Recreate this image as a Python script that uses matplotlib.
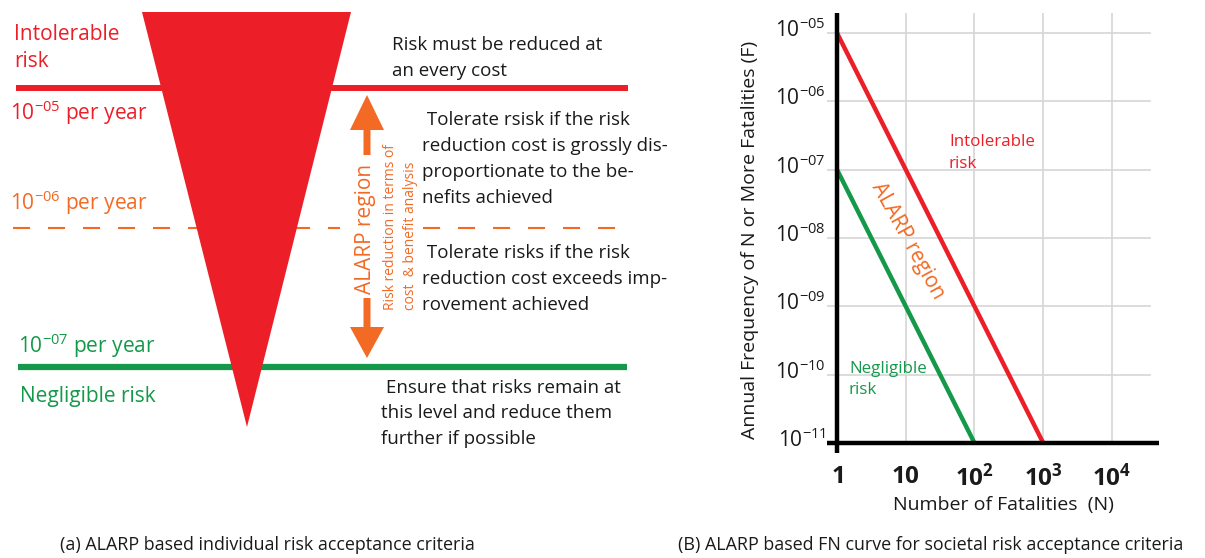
import numpy as np
import matplotlib.pyplot as plt
from matplotlib.patches import Polygon, FancyArrow
from matplotlib.transforms import ScaledTranslation

plt.rcParams['font.family'] = ['Open Sans', 'DejaVu Sans']
plt.rcParams['mathtext.fontset'] = 'custom'
plt.rcParams['mathtext.rm'] = 'Open Sans'
plt.rcParams['mathtext.bf'] = 'Open Sans:bold'
plt.rcParams['mathtext.it'] = 'Open Sans:italic'

RED = '#ec1f28'
ORANGE = '#f26a24'
GREEN = '#14994a'
INK = '#1a1a1a'
GRID = '#d6d6d6'

# (a) individual risk levels, per year
risk_levels = [1e-5, 1e-6, 1e-7]
level_text = ['$10^{-05}$ per year', '$10^{-06}$ per year', '$10^{-07}$ per year']
level_colors = [RED, ORANGE, GREEN]

# (b) FN criterion lines, F = F1 / N^2
intol_N = [1, 1000]
intol_F = [1e-5, 1e-11]
neglig_N = [1, 100]
neglig_F = [1e-7, 1e-11]

xticks = [1, 10, 100, 1000, 10000]
xtick_labels = [r'$\mathbf{1}$', r'$\mathbf{10}$', r'$\mathbf{10}^{\mathbf{2}}$',
                r'$\mathbf{10}^{\mathbf{3}}$', r'$\mathbf{10}^{\mathbf{4}}$']
yticks = [1e-11, 1e-10, 1e-9, 1e-8, 1e-7, 1e-6, 1e-5]
ytick_labels = ['$10^{-11}$', '$10^{-10}$', '$10^{-09}$', '$10^{-08}$',
                '$10^{-07}$', '$10^{-06}$', '$10^{-05}$']

W, H = 1205, 558
fig = plt.figure(figsize=(W / 100, H / 100), dpi=100)


def rect(x0, y0, x1, y1):
    # pixel box -> figure fraction
    return [x0 / W, 1 - y1 / H, (x1 - x0) / W, (y1 - y0) / H]


# ---- (a) risk levels on a log scale
axl = fig.add_axes(rect(0, 0, 640, H))
axl.set_yscale('log')
axl.set_xlim(0, 640)
axl.set_ylim(10 ** -8.369, 10 ** -4.369)
axl.axis('off')
axl.hlines(risk_levels[0], 16, 628, color=level_colors[0], lw=4.3)
axl.hlines([risk_levels[1]] * 2, [13, 423], [340, 622], color=level_colors[1],
           lw=1.5, linestyles=[(0, (8.2, 8.6))])
axl.hlines(risk_levels[2], 18, 627, color=level_colors[2], lw=4.5)

# ---- (b) FN curve
ax = fig.add_axes(rect(827, 13, 1159, 453))
ax.set_xscale('log')
ax.set_yscale('log')
ax.set_xlim(10 ** -0.1455, 10 ** 4.684)
ax.set_ylim(10 ** -11.146, 10 ** -4.708)
for s in ax.spines.values():
    s.set_visible(False)
for y in yticks[1:]:
    ax.axhline(y, xmin=0, xmax=0.973, color=GRID, lw=1.2, zorder=0)
for x in xticks[1:]:
    ax.axvline(x, ymin=0.0227, ymax=1, color=GRID, lw=1.2, zorder=0)
ax.axvline(1, color='black', lw=3.2, zorder=3)
ax.axhline(1e-11, color='black', lw=3.2, zorder=3)

ax.plot(intol_N, intol_F, color=RED, lw=3.2, solid_capstyle='butt', zorder=2)
ax.plot(neglig_N, neglig_F, color=GREEN, lw=3.2, solid_capstyle='butt', zorder=2)

ax.minorticks_off()
ax.set_xticks(xticks, xtick_labels)
ax.set_yticks(yticks, ytick_labels)
ax.tick_params(axis='x', length=0, pad=8.5, labelsize=17.5, colors=INK)
ax.tick_params(axis='y', length=0, pad=1, labelsize=15, colors=INK)
# sit the "10" of each label on its grid line
down = ScaledTranslation(0, -3 / 72, fig.dpi_scale_trans)
for lab in ax.get_yticklabels():
    lab.set_va('baseline')
    lab.set_transform(lab.get_transform() + down)

ax.set_xlabel('Number of Fatalities  (N)', fontsize=14, color=INK)
ax.xaxis.set_label_coords(0.53, -0.098)
ax.set_ylabel('Annual Frequency of N or More Fatalities (F)', fontsize=14, color=INK)
ax.yaxis.set_label_coords(-0.205, 0.484)

# ---- overlay in pixel units for the diagram and annotations
ov = fig.add_axes([0, 0, 1, 1])
ov.set_xlim(0, W)
ov.set_ylim(H, 0)
ov.axis('off')
ov.patch.set_visible(False)

ov.add_patch(Polygon([(142, 12), (351, 12), (247, 427)], closed=True,
                     color=RED, lw=0))
ov.add_patch(FancyArrow(367, 155, 0, -60, width=7, head_width=34, head_length=35,
                        length_includes_head=True, color=ORANGE, lw=0))
ov.add_patch(FancyArrow(367, 298, 0, 60, width=7, head_width=34, head_length=31,
                        length_includes_head=True, color=ORANGE, lw=0))


def block(x, y, lines, dy, **kw):
    for i, s in enumerate(lines):
        ov.text(x, y + i * dy, s, va='baseline', **kw)


left = dict(fontsize=15)
block(14, 40, ['Intolerable', 'risk'], 27, color=RED, **left)
block(10, 120, [level_text[0]], 0, color=level_colors[0], **left)
block(10, 210, [level_text[1]], 0, color=level_colors[1], **left)
block(18, 353, [level_text[2]], 0, color=level_colors[2], **left)
block(20, 402, ['Negligible risk'], 0, color=GREEN, **left)

txt = dict(color=INK, fontsize=13.5)
block(392, 50, ['Risk must be reduced at', 'an every cost'], 26, **txt)
block(422, 125, [' Tolerate rsisk if the risk', 'reduction cost is grossly dis-',
                 'proportionate to the be-', 'nefits achieved'], 26, **txt)
block(422, 258, [' Tolerate risks if the risk', 'reduction cost exceeds imp-',
                 'rovement achieved'], 26, **txt)
block(381, 393, [' Ensure that risks remain at', 'this level and reduce them',
                 'further if possible'], 25.5, **txt)

ov.text(365, 229, 'ALARP region', rotation=90, ha='center', va='center',
        color=ORANGE, fontsize=15)
ov.text(390, 310, 'Risk reduction in terms of', rotation=90, ha='center',
        va='bottom', color=ORANGE, fontsize=10)
ov.text(410, 310, 'cost  & benefit analysis', rotation=90, ha='center',
        va='bottom', color=ORANGE, fontsize=10)

block(949, 146, ['Intolerable', 'risk'], 22, color=RED, fontsize=12.2)
block(849, 373, ['Negligible', 'risk'], 21, color=GREEN, fontsize=12.2)
ov.text(908, 241, 'ALARP region', rotation=-61, ha='center', va='center',
        rotation_mode='anchor', color=ORANGE, fontsize=15)

block(60, 550, ['(a) ALARP based individual risk acceptance criteria'], 0,
      color=INK, fontsize=12.9)
block(678, 550, ['(B) ALARP based FN curve for societal risk acceptance criteria'], 0,
      color=INK, fontsize=12.9)

fig.savefig('out.png', dpi=100)
